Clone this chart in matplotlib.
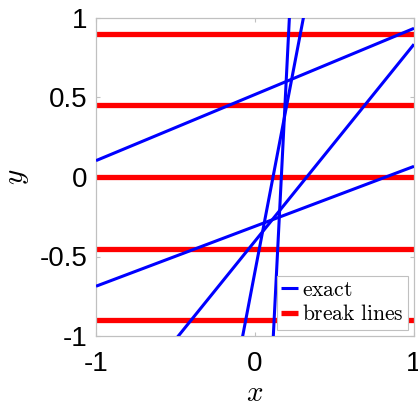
import numpy as np
import matplotlib
matplotlib.use('Agg')
import matplotlib.pyplot as plt

plt.rcParams['mathtext.fontset'] = 'cm'
plt.rcParams['font.family'] = ['Liberation Sans', 'DejaVu Sans']

# straight lines y = slope*x + intercept
slopes = [0.416, 0.377, 1.238, 5.24, 19.8]
intercepts = [0.519, -0.31, -0.403, -0.594, -3.28]

# levels of the break lines
breaks = [0.9, 0.45, 0.0, -0.45, -0.9]

xs = np.array([-1.0, 1.0])

fig = plt.figure(figsize=(4.18, 4.04), dpi=100)
ax = fig.add_axes([96/418, 68/404, 318/418, 318/404])

for i, (a, b) in enumerate(zip(slopes, intercepts)):
    ax.plot(xs, a*xs + b, color='blue', lw=2.2, zorder=3,
            solid_capstyle='butt', label=r'$\mathrm{exact}$' if i == 0 else None)
for i, c in enumerate(breaks):
    ax.plot(xs, [c, c], color='red', lw=3.8, zorder=2,
            solid_capstyle='butt', label=r'$\mathrm{break\ lines}$' if i == 0 else None)

ax.set_xlim(-1, 1)
ax.set_ylim(-1, 1)
ax.set_xticks([-1, 0, 1])
ax.set_xticklabels(['-1', '0', '1'])
ax.set_yticks([-1, -0.5, 0, 0.5, 1])
ax.set_yticklabels(['-1', '-0.5', '0', '0.5', '1'])
ax.tick_params(direction='in', length=3, width=0.8, color='#c0c0c0',
               labelsize=20, top=True, right=True)
ax.tick_params(axis='x', pad=11)
ax.tick_params(axis='y', pad=6)
for s in ax.spines.values():
    s.set_color('#c0c0c0')
    s.set_linewidth(0.9)

ax.set_xlabel(r'$x$', fontsize=21, labelpad=1)
ax.set_ylabel(r'$y$', fontsize=21, labelpad=6)

leg = ax.legend(loc='lower right', fontsize=15.5, handlelength=0.8,
                handletextpad=0.15, borderpad=0.2, labelspacing=0.15,
                borderaxespad=0.3, fancybox=False, framealpha=1)
leg.get_frame().set_edgecolor('#c0c0c0')
leg.get_frame().set_linewidth(0.8)
leg.set_zorder(5)

fig.savefig('out.png', dpi=100)
